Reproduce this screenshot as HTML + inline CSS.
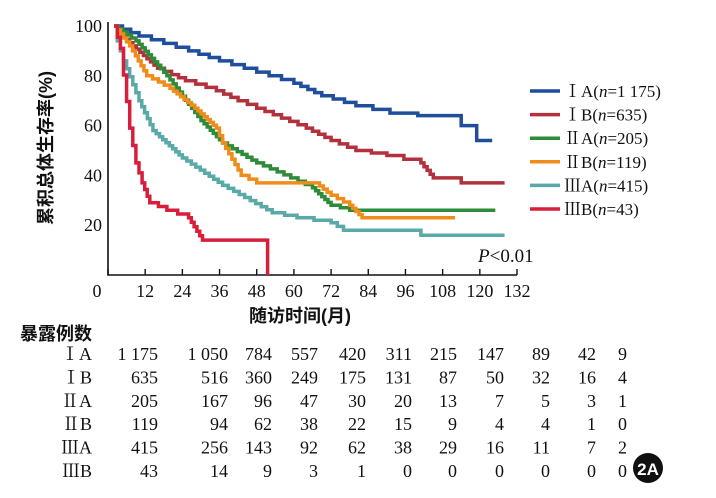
<!DOCTYPE html>
<html><head><meta charset="utf-8"><style>
body{margin:0;background:#fff;width:716px;height:493px;overflow:hidden}
text{font-family:"Liberation Serif","Noto Serif CJK SC",serif;fill:#111}
.cjk{font-family:"Liberation Sans","Noto Sans CJK SC",sans-serif;font-weight:bold}
</style></head><body>
<svg id="chart" width="716" height="493">
<g id="axes"></g>
<g id="curves"></g>
<g id="legend"></g>
<g id="table"></g>
<text x="478" y="262" font-size="19"><tspan font-style="italic">P</tspan>&lt;0.01</text>
<text class="cjk" x="300" y="322" font-size="18" text-anchor="middle">随访时间(月)</text>
<text class="cjk" transform="translate(52,148) rotate(-90)" font-size="18" text-anchor="middle">累积总体生存率(%)</text>
<text class="cjk" x="20" y="340" font-size="18">暴露例数</text>
<g><circle cx="648" cy="468" r="15" fill="#111"/><text x="648" y="475" font-size="17" text-anchor="middle" style="fill:#fff;font-family:'Liberation Sans',sans-serif;font-weight:bold">2A</text></g>
</svg>
<script>
const xTicks=[0,12,24,36,48,60,72,84,96,108,120,132];
const yTicks=[20,40,60,80,100];
const groupNames=["ⅠA","ⅠB","ⅡA","ⅡB","ⅢA","ⅢB"];
const groupN=["1 175","635","205","119","415","43"];
const colors=["#1f4e9c","#b3303d","#2e8b3a","#f08c1a","#5aa9a9","#d81e3c"];
const tIA=[2,10,18,26,36,44,52,60,69,80,91,100,114,114,119,119,124];
const sIA=[100,96,93,90,86,83,80,77,72,68,65,64,63,60,60,54,54];
const tIB=[2,8,16,25,35,42,48,56,64,72,80,90,101,105,114,114,128];
const sIB=[100,92,83,78,74,70,67,63,59,54,50,48,45,39,39,37,37];
const tIIA=[2,9,19,30,37,48,59,66,72,78,125];
const sIIA=[100,94,80,62,53,45,39,35,28,26,26];
const tIIB=[2,7,12.5,20,28,35,37,43,48,67,72,78,82,112];
const sIIB=[100,92,80,75,67,59,53,40,37,37,32,28,23,23];
const tIIIA=[2,3,5,10,14.5,24,37,53,61,72,76,101,101,128];
const sIIIA=[100,94,86,70,58,47,36,25,23,21,18,18,16,16];
const tIIIB=[2,4,7,9,11,13.5,19,26,30.5,51.5,51.5];
const sIIIB=[100,91,59,45,37,29,26,23,14,14,0];
const riskIA=["1 175","1 050","784","557","420","311","215","147","89","42","9"];
const riskIB=["635","516","360","249","175","131","87","50","32","16","4"];
const riskIIA=["205","167","96","47","30","20","13","7","5","3","1"];
const riskIIB=["119","94","62","38","22","15","9","4","4","1","0"];
const riskIIIA=["415","256","143","92","62","38","29","16","11","7","2"];
const riskIIIB=["43","14","9","3","1","0","0","0","0","0","0"];
const NS="http://www.w3.org/2000/svg";
const X=m=>108+m*(409/132), Y=s=>275-s*2.49;
function mk(tag,attrs,parent){const e=document.createElementNS(NS,tag);for(const k in attrs)e.setAttribute(k,attrs[k]);parent.appendChild(e);return e;}
const ax=document.getElementById('axes');
let a=mk('path',{d:`M108,22V275H517`,fill:'none',stroke:'#111','stroke-width':1.6},ax);


xTicks.forEach(v=>{
 let t=mk('line',{x1:X(v),x2:X(v),y1:275,y2:269,stroke:'#111','stroke-width':1.4},ax);
 
 
 let l=mk('text',{x:X(v)-(v==0?11:0),y:297,'font-size':18,'text-anchor':'middle'},ax);l.textContent=v;
 
 
});
yTicks.forEach(v=>{
 let l=mk('text',{x:102,y:Y(v)+6,'font-size':18,'text-anchor':'end'},ax);l.textContent=v;
 
 
});
const T=[tIA,tIB,tIIA,tIIB,tIIIA,tIIIB],S=[sIA,sIB,sIIA,sIIB,sIIIA,sIIIB];
const cv=document.getElementById('curves');
T.forEach((t,i)=>{
 let px=X(t[0]),py=Y(S[i][0]);
 let d='M'+px.toFixed(1)+','+py.toFixed(1);
 for(let j=1;j<t.length;j++){
  const nx=X(t[j]),ny=Y(S[i][j]);
  const n=Math.max(1,Math.round(Math.min(Math.abs(nx-px),Math.abs(ny-py))/3));
  for(let k=1;k<=n;k++){
   const xx=px+(nx-px)*k/n,yy=py+(ny-py)*k/n;
   d+='H'+xx.toFixed(1)+'V'+yy.toFixed(1);
  }
  px=nx;py=ny;
 }
 let p=mk('path',{d:d,fill:'none',stroke:colors[i],'stroke-width':3.5,'stroke-linejoin':'miter'},cv);
 
 
});
const lg=document.getElementById('legend');
groupNames.forEach((g,i)=>{
 const y=91+i*23.6;
 let l=mk('line',{x1:530,x2:560,y1:y,y2:y,stroke:colors[i],'stroke-width':3.5},lg);
 
 
 let t=mk('text',{x:564,y:y+6,'font-size':17},lg);
 t.innerHTML=g+'(<tspan font-style="italic">n</tspan>='+groupN[i]+')';
 
 
});
const R=[riskIA,riskIB,riskIIA,riskIIB,riskIIIA,riskIIIB];
const colR=[158,228,272,318,366,412,457,504,550,596,627];
const tb=document.getElementById('table');
R.forEach((r,i)=>{
 const y=360+i*23.4;
 let l=mk('text',{x:92,y:y,'font-size':18,'text-anchor':'end'},tb);l.textContent=groupNames[i];
 
 
 r.forEach((v,j)=>{
  let c=mk('text',{x:colR[j],y:y,'font-size':18,'text-anchor':'end'},tb);c.textContent=v;
  
  
 });
});
</script>
</body></html>
